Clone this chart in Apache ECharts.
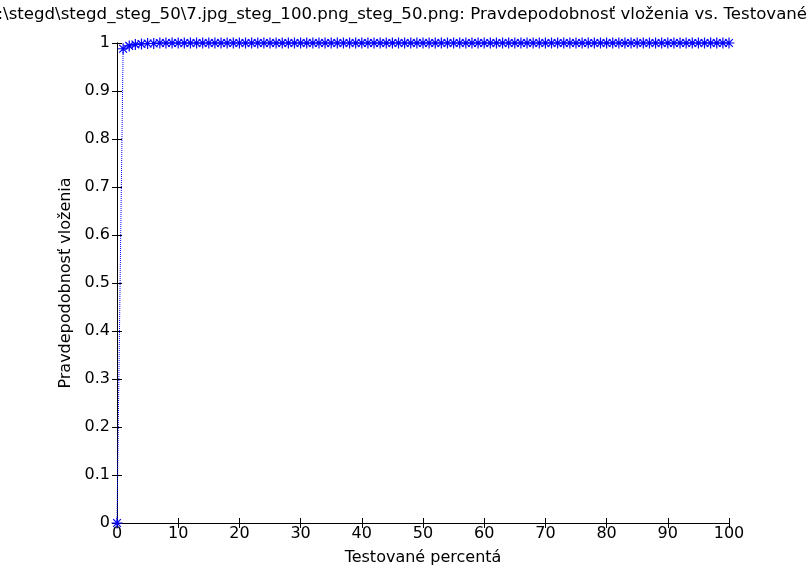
<!DOCTYPE html>
<html>
<head>
<meta charset="utf-8">
<script src="https://cdn.jsdelivr.net/npm/echarts@6/dist/echarts.min.js"></script>
<style>
  html, body { margin: 0; padding: 0; background: #fff; }
  #chart { width: 806px; height: 574px; }
</style>
</head>
<body>
<div id="chart"></div>
<script>
// testovane percenta 0..100
var percent = [];
for (var i = 0; i <= 100; i++) percent.push(i);
// pravdepodobnost vlozenia
var probability = [0, 0.988, 0.994, 0.997, 0.998, 0.999, 0.999, 1, 1, 1,
    1, 1, 1, 1, 1, 1, 1, 1, 1, 1,
    1, 1, 1, 1, 1, 1, 1, 1, 1, 1,
    1, 1, 1, 1, 1, 1, 1, 1, 1, 1,
    1, 1, 1, 1, 1, 1, 1, 1, 1, 1,
    1, 1, 1, 1, 1, 1, 1, 1, 1, 1,
    1, 1, 1, 1, 1, 1, 1, 1, 1, 1,
    1, 1, 1, 1, 1, 1, 1, 1, 1, 1,
    1, 1, 1, 1, 1, 1, 1, 1, 1, 1,
    1, 1, 1, 1, 1, 1, 1, 1, 1, 1, 1];
var titleText = 'C:\\stegd\\stegd_steg_50\\7.jpg_steg_100.png_steg_50.png: Pravdepodobnos\u0165 vlo\u017eenia vs. Testovan\u00e9 percent\u00e1';

var font = 'DejaVu Sans, sans-serif';
var data = [];
for (var k = 0; k < percent.length; k++) data.push([percent[k], probability[k]]);

var star = 'path://M0,-10L0,10M-10,0L10,0M-7,-7L7,7M-7,7L7,-7';

var chart = echarts.init(document.getElementById('chart'));
chart.setOption({
    animation: false,
    backgroundColor: '#fff',
    graphic: [{
        // title is wider than the window, both ends get cut off
        type: 'text',
        x: 436,
        y: 6,
        style: {
            text: titleText,
            font: '16.6px ' + font,
            fill: '#000',
            align: 'center',
            verticalAlign: 'top'
        }
    }],
    grid: { left: 117, right: 77, top: 43, bottom: 51, containLabel: false },
    xAxis: [{
        type: 'value', min: 0, max: 100, interval: 10,
        name: 'Testovan\u00e9 percent\u00e1', nameLocation: 'middle', nameGap: 27,
        nameTextStyle: { color: '#000', fontSize: 16, fontFamily: font },
        axisLine: { lineStyle: { color: '#000', width: 1 } },
        axisTick: { inside: true, length: 5, lineStyle: { color: '#000' } },
        axisLabel: { color: '#000', fontSize: 16, fontFamily: font, margin: 3 },
        splitLine: { show: false }
    }, {
        type: 'value', min: 0, max: 100, interval: 10, position: 'top',
        axisLine: { lineStyle: { color: '#000', width: 1 } },
        axisTick: { inside: true, length: 5, lineStyle: { color: '#000' } },
        axisLabel: { show: false }, splitLine: { show: false }
    }],
    yAxis: [{
        type: 'value', min: 0, max: 1, interval: 0.1,
        name: 'Pravdepodobnos\u0165 vlo\u017eenia', nameLocation: 'middle', nameGap: 43,
        nameTextStyle: { color: '#000', fontSize: 16, fontFamily: font },
        axisLine: { lineStyle: { color: '#000', width: 1 } },
        axisTick: { inside: true, length: 5, lineStyle: { color: '#000' } },
        axisLabel: {
            color: '#000', fontSize: 16, fontFamily: font, margin: 7,
            formatter: function (v) { return String(Math.round(v * 10) / 10); }
        },
        splitLine: { show: false }
    }, {
        type: 'value', min: 0, max: 1, interval: 0.1, position: 'right',
        axisLine: { lineStyle: { color: '#000', width: 1 } },
        axisTick: { inside: true, length: 5, lineStyle: { color: '#000' } },
        axisLabel: { show: false }, splitLine: { show: false }
    }],
    series: [{
        type: 'line',
        data: data,
        symbol: star,
        symbolSize: 11,
        showAllSymbol: true,
        lineStyle: { color: '#0000ff', width: 1, type: 'dotted' },
        itemStyle: { color: 'transparent', borderColor: '#0000ff', borderWidth: 1.2 },
        clip: false
    }]
});
</script>
</body>
</html>
